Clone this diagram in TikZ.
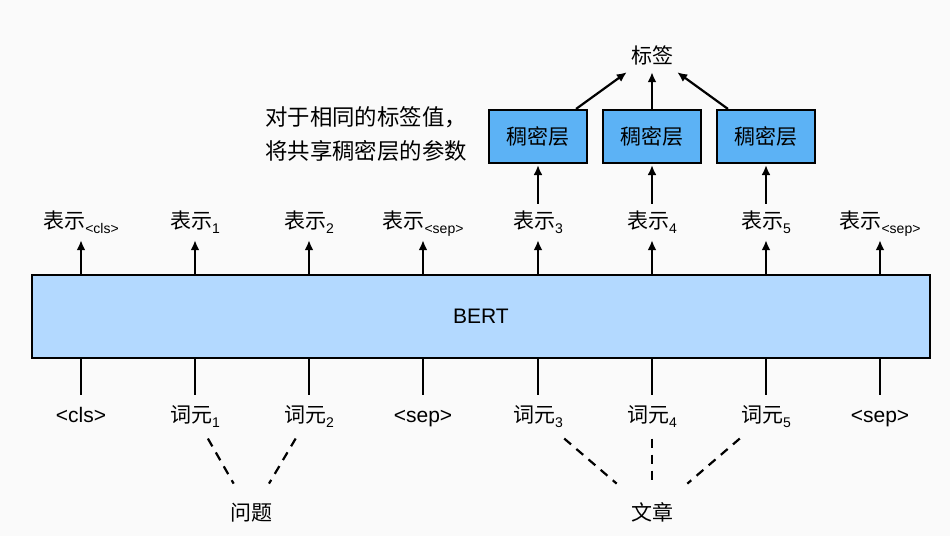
\documentclass[tikz,border=0pt]{standalone}
\usepackage{fontspec}
\setmainfont{Liberation Sans}
\newfontfamily\cjk{Noto Sans CJK SC}
\usetikzlibrary{arrows.meta,calc}

\definecolor{bgcol}{RGB}{250,250,250}
\definecolor{bertfill}{RGB}{179,217,255}
\definecolor{densefill}{RGB}{92,178,245}

\newcommand\lowsub[1]{\raisebox{-5pt}{\fontsize{14}{14}\selectfont #1}}

\begin{document}
\begin{tikzpicture}[x=1pt, y=-1pt,
    every node/.style={font=\fontsize{21}{21}\selectfont},
    replabel/.style={anchor=base, inner xsep=0pt, inner ysep=7pt, text height=17pt, text depth=5pt},
    toklabel/.style={anchor=base, inner xsep=0pt, inner ysep=10pt, text height=17pt, text depth=5pt},
    densebox/.style={draw, line width=2.2pt, fill=densefill, minimum width=98pt, minimum height=53pt, inner sep=0pt},
    arr/.style={-{Latex[length=10pt,width=9pt]}, line width=2.2pt},
    dashline/.style={line width=2.2pt, dash pattern=on 9pt off 7pt}]

    % Sfondo
    \useasboundingbox (0,0) rectangle (950,536);
    \fill[bgcol] (0,0) rectangle (950,536);

    % BERT
    \node[draw, line width=2.2pt, fill=bertfill, minimum width=898pt, minimum height=83pt] (bert) at (481,316.5) {BERT};

    % Rappresentazioni
    \foreach \x/\s [count=\i] in {81/<cls>, 195/1, 309/2, 423/<sep>, 538/3, 652/4, 766/5, 880/<sep>} {
        \node[replabel] (rep\i) at (\x,228) {{\cjk 表示}\lowsub{\s}};
        \draw[arr] (bert.north -| rep\i.south) -- (rep\i.south);
    }

    % Token
    \foreach \x/\t [count=\i] in {81/{<cls>}, 195/{{\cjk 词元}\lowsub{1}}, 309/{{\cjk 词元}\lowsub{2}}, 423/{<sep>},
        538/{{\cjk 词元}\lowsub{3}}, 652/{{\cjk 词元}\lowsub{4}}, 766/{{\cjk 词元}\lowsub{5}}, 880/{<sep>}} {
        \node[toklabel] (tok\i) at (\x,422) {\t};
        \draw[line width=2.2pt] (bert.south -| tok\i.north) -- (tok\i.north);
    }

    % Domanda e testo
    \node[toklabel] (question) at (251,520) {\cjk 问题};
    \node[toklabel] (passage) at (652,520) {\cjk 文章};
    \foreach \i in {2,3}
        \draw[dashline] ($(tok\i)!0.23!(question)$) -- ($(tok\i)!0.69!(question)$);
    \foreach \i in {5,6,7}
        \draw[dashline] ($(tok\i)!0.23!(passage)$) -- ($(tok\i)!0.69!(passage)$);

    % Strati densi
    \foreach \i in {5,6,7} {
        \node[densebox] (dense\i) at (rep\i.center |- 0,136.5) {\cjk 稠密层};
        \draw[arr, shorten >=1pt] (rep\i.north) -- (dense\i.south);
    }

    % Etichetta
    \node[anchor=base, inner sep=4pt, text height=17pt, text depth=5pt] (label) at (652,63) {\cjk 标签};
    \draw[arr] ([xshift=-12pt]dense5.north east) -- (label.south west);
    \draw[arr] (dense6.north) -- (label.south);
    \draw[arr] ([xshift=12pt]dense7.north west) -- (label.south east);

    % Nota
    \node[align=left, anchor=west, inner sep=0pt, font=\fontsize{22.4}{34}\selectfont\cjk] (note) at (265,134)
        {对于相同的标签值，\\将共享稠密层的参数};

\end{tikzpicture}
\end{document}
